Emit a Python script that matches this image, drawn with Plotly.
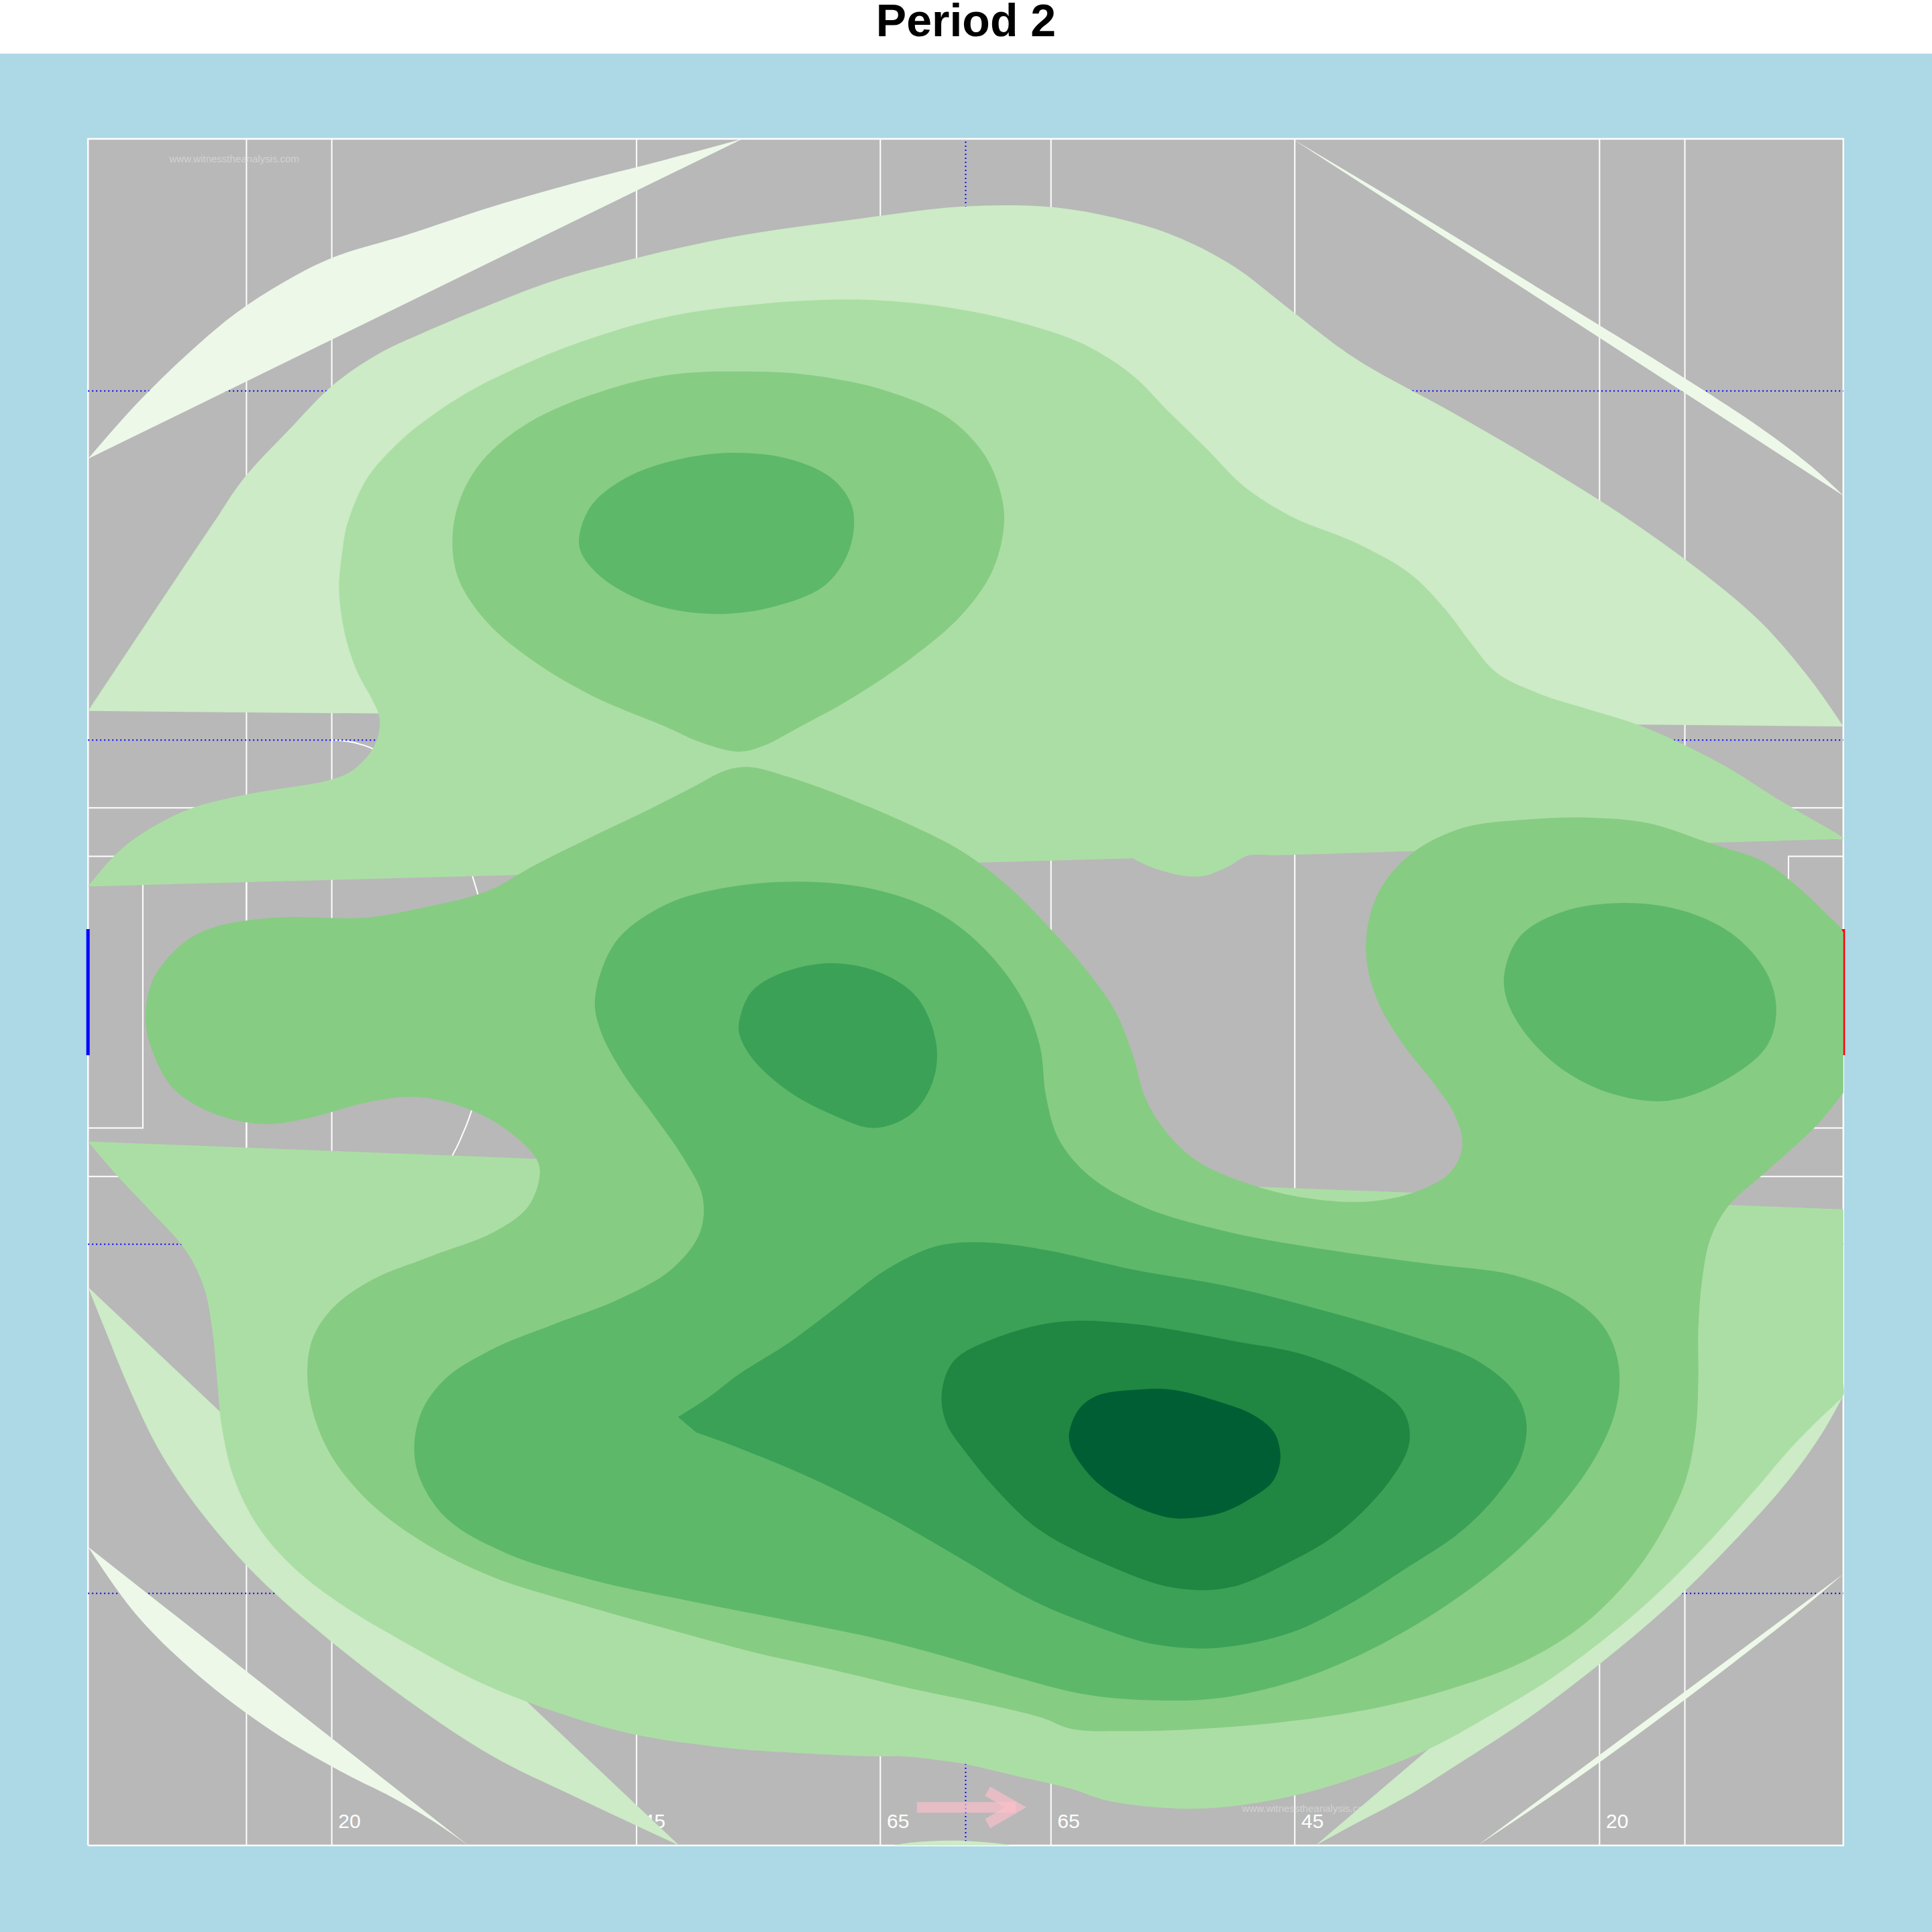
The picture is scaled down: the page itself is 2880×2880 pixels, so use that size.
import numpy as np
import plotly.graph_objects as go

# ---------------- text ----------------
TITLE = "Period 2"
WATERMARK = "www.witnesstheanalysis.com"

# ---------------- pitch (metres) ----------------
PITCH_LENGTH = 144
PITCH_WIDTH = 88
pitch_lines_x = [13, 20, 45, 65, 79, 99, 124, 131]
channel_lines_y = [13, 31, 57, 75]
halfway_x = 72
small_rect_depth = 4.5
small_rect_y = [37, 51]
large_rect_depth = 13
large_rect_y = [34.5, 53.5]
arc_centres_x = [20, 124]
arc_centre_y = 44
arc_radius = 13
goal_y = [40.75, 47.25]

label_lines = [20, 45, 65, 79, 99, 124]
label_texts = ["20", "45", "65", "65", "45", "20"]
label_offset = 1.45
label_y = 1.16

watermark_x = [12.0, 100.0]
watermark_y = [86.9, 1.87]

arrow_shaft_x = [68.0, 76.1]
arrow_shaft_y = [1.97, 1.97]
arrow_head_x = [73.8, 76.1, 73.8]
arrow_head_y = [2.8, 1.97, 1.13]

# ---------------- density contour bands (x, y in metres) ----------------
# "chord": open contour path closed by a straight line; "loop": closed contour
band1 = [
    ("chord", [(0, 71.5), (3.96, 74.32), (7.99, 76.8), (12.03, 78.96), (16.07, 80.61), (20.1, 81.88),
               (26.16, 83.05), (33.22, 84.51), (40.29, 85.78), (47.35, 86.92), (53.7, 88.0)]),
    ("chord", [(98.8, 88), (108.9, 84.2), (119.0, 80.3), (129.1, 76.4), (137.2, 73.1), (141.2, 71.2),
               (144, 69.6)]),
    ("chord", [(0, 15.4), (3.96, 11.9), (9.0, 8.8), (15.1, 5.9), (21.1, 3.7), (24.9, 2.5), (28.2, 1.3),
               (31.2, 0)]),
    ("chord", [(114.0, 0), (122.0, 3.4), (130.1, 7.1), (137.2, 10.5), (141.2, 12.5), (144, 14.0)]),
]
band2 = [
    ("chord", [(0, 58.5), (4.97, 63.2), (10.3, 68.2), (12.8, 70.5), (16.5, 73.0), (20.1, 75.3),
               (23.8, 76.9), (27.5, 78.0), (33.2, 79.5), (38.3, 80.7), (45.3, 81.9), (53.4, 83.0),
               (63.5, 83.9), (71.6, 84.5), (78.6, 84.5), (83.7, 84.0), (88.7, 83.1), (93.8, 81.5),
               (98.8, 79.1), (103.9, 76.7), (111.9, 73.9), (119.0, 71.3), (126.1, 68.5), (132.1, 65.8),
               (137.2, 63.1), (141.2, 60.2), (144, 57.7)]),
    ("chord", [(0, 28.8), (1.4, 26.6), (3.5, 23.4), (6.0, 20.2), (9.5, 17.0), (14.0, 13.8), (19.6, 10.7),
               (26.2, 7.5), (33.2, 4.6), (40.0, 2.5), (48.5, 0)]),
    ("chord", [(144, 23.2), (142.2, 21.2), (139.2, 18.6), (135.2, 15.8), (130.1, 12.6), (124.1, 9.4),
               (118.0, 6.5), (112.4, 4.2), (108.1, 2.5), (103.9, 1.1), (100.7, 0)]),
    ("chord", [(66.0, 0), (67.5, 0.15), (69.0, 0.22), (70.5, 0.25), (72.0, 0.24), (73.5, 0.18),
               (75.0, 0.08), (75.7, 0)]),
]
band3 = [
    ("chord", [(0, 49.45), (2.27, 51.1), (4.48, 52.2), (8.16, 53.4), (13.07, 54.2), (19.9, 54.95),
               (21.6, 55.4), (23.1, 56.3), (23.8, 57.2), (23.9, 58.2), (23.3, 59.1), (22.1, 60.5),
               (21.1, 62.4), (20.6, 64.7), (20.9, 66.9), (21.3, 68.2), (22.9, 70.5), (25.25, 72.2),
               (27.5, 73.4), (31.2, 74.95), (35.2, 76.2), (40.3, 77.5), (47.35, 78.8), (55.4, 79.5),
               (63.5, 79.7), (70.6, 79.3), (76.6, 78.5), (81.7, 77.4), (85.7, 75.8), (88.7, 73.9),
               (91.8, 72.0), (94.8, 70.1), (98.8, 68.5), (103.9, 67.2), (108.4, 65.6), (111.4, 63.7),
               (113.45, 62.0), (115.5, 60.5), (119.0, 59.4), (123.0, 58.6), (127.1, 57.8), (131.1, 56.7),
               (135.0, 55.4), (138.5, 54.0), (141.2, 53.0), (144, 51.9), (143.3, 51.89), (136, 51.76),
               (126, 51.58), (116, 51.4), (106, 51.22), (98.0, 51.07), (97.3, 51.06), (95.1, 51.03),
               (93.6, 50.5), (91.6, 50.0), (89.9, 50.0), (87.2, 50.45), (85.7, 50.9)]),
    ("chord", [(144, 32.8), (144, 30.4), (144, 28.0), (144, 25.6), (144, 23.9), (144, 23.2),
               (143.4, 22.8), (142.2, 22.1), (139.7, 20.5), (136.7, 18.3), (133.1, 15.75),
               (129.1, 13.2), (125.1, 11.0), (120.0, 8.6), (115.0, 6.7), (109.9, 4.95), (104.9, 3.7),
               (99.8, 2.7), (94.8, 2.1), (89.7, 1.9), (83.7, 2.3), (80.8, 2.9), (78.9, 3.2), (77.1, 3.45),
               (74.4, 3.85), (72.0, 4.2), (69.8, 4.4), (66.8, 4.6), (64.3, 4.6), (57.4, 4.8), (51.4, 5.1),
               (44.3, 5.8), (38.3, 6.9), (32.2, 8.4), (26.2, 10.4), (21.1, 12.3), (17.1, 14.2),
               (14.0, 16.4), (12.0, 18.9), (11.0, 21.5), (10.6, 24.0), (10.2, 26.6), (9.5, 28.8),
               (8.0, 30.7), (4.7, 33.0), (2.3, 34.6), (0, 36.3)]),
]
band4 = [
    ("loop", [(53.4, 56.4), (50.4, 56.85), (47.35, 57.7), (41.3, 59.3), (36.25, 61.2), (32.7, 63.1),
              (30.4, 65.3), (29.9, 67.5), (30.7, 69.7), (32.7, 71.65), (36.25, 73.4), (41.3, 74.8),
              (47.35, 75.8), (53.4, 76.0), (59.5, 75.8), (65.5, 75.0), (70.6, 73.6), (73.6, 71.65),
              (75.0, 69.4), (75.1, 67.8), (74.1, 65.6), (71.6, 63.4), (67.5, 61.2), (62.5, 59.1),
              (58.45, 57.7), (55.4, 56.7)]),
    ("chord", [(144, 38.8), (143.5, 38.4), (141.6, 37.0), (137.4, 34.6), (134.6, 33.0), (133.1, 31.3),
               (132.4, 29.1), (132.1, 26.55), (132.1, 24.0), (131.9, 21.5), (131.1, 18.9), (129.3, 16.4),
               (126.6, 13.85), (122.5, 11.3), (117.5, 9.4), (111.4, 8.0), (104.9, 7.0), (97.8, 6.35),
               (90.75, 6.0), (84.7, 5.9), (80.75, 6.0), (78.2, 6.6), (73.6, 7.3), (67.5, 8.1), (61.5, 9.0),
               (54.4, 10.0), (47.35, 11.2), (40.3, 12.45), (33.2, 13.85), (27.2, 15.75), (22.6, 18.0),
               (19.6, 20.5), (18.1, 23.4), (18.3, 25.9), (19.9, 27.6), (23.1, 29.1), (28.2, 30.4),
               (33.2, 31.6), (36.05, 32.9), (37.05, 34.5), (36.8, 35.4), (33.9, 37.1), (30.2, 38.2),
               (26.6, 38.6), (22.8, 38.3), (18.0, 37.5), (14.3, 37.2), (10.1, 37.8), (6.9, 39.1),
               (5.2, 41.1), (4.72, 42.66), (5.22, 44.5), (6.2, 45.5), (8.16, 46.7), (10.6, 47.4),
               (15.5, 47.85), (22.9, 47.85), (27.8, 48.4), (32.7, 49.2), (36.8, 50.6), (41.3, 52.0),
               (45.3, 53.2), (49.4, 54.5), (52.4, 55.45), (54.4, 55.6), (57.45, 55.1), (61.5, 54.2),
               (66.5, 52.9), (71.6, 51.3), (75.6, 49.4), (78.6, 47.5), (81.7, 45.3), (84.2, 43.1),
               (85.7, 40.8), (86.7, 38.6), (88.2, 37.0), (90.75, 35.4), (94.8, 34.2), (99.8, 33.4),
               (104.9, 33.2), (108.9, 33.7), (111.75, 34.7), (112.75, 36.1), (112.1, 37.7), (110.4, 39.3),
               (107.9, 41.3), (105.9, 43.4), (104.9, 45.6), (105.1, 47.8), (106.4, 49.7), (108.9, 51.3),
               (112.95, 52.5), (118.0, 52.9), (123.0, 53.0), (128.1, 52.7), (132.96, 51.7), (137.55, 50.7),
               (140.85, 49.1), (142.5, 48.1), (143.5, 47.5), (144, 47.1)]),
]
band5 = [
    ("loop", [(40.3, 67.5), (41.3, 69.1), (43.8, 70.4), (47.35, 71.3), (52.4, 71.8), (57.45, 71.5),
              (61.0, 70.5), (62.7, 69.0), (62.5, 66.9), (60.5, 65.0), (56.4, 63.9), (51.4, 63.5),
              (46.3, 64.0), (42.3, 65.3), (40.5, 66.6)]),
    ("loop", [(41.6, 43.7), (43.3, 46.6), (47.35, 48.5), (52.4, 49.4), (58.45, 49.7), (64.5, 49.3),
              (69.6, 48.15), (73.6, 46.2), (76.6, 43.7), (78.1, 41.2), (78.6, 38.6), (79.65, 36.4),
              (82.2, 34.5), (86.7, 32.9), (93.8, 31.6), (101.85, 30.7), (109.9, 30.0), (117.0, 29.4),
              (122.0, 28.1), (124.55, 26.55), (125.6, 24.6), (125.3, 22.4), (123.55, 19.9), (120.5, 17.3),
              (116.5, 14.8), (111.95, 12.6), (107.9, 11.0), (103.9, 9.7), (98.8, 8.45), (92.8, 7.6),
              (86.7, 7.5), (81.7, 7.8), (76.6, 8.6), (70.6, 9.7), (64.5, 10.7), (57.45, 11.6), (49.4, 12.6),
              (41.3, 13.7), (34.2, 15.1), (29.2, 17.0), (26.9, 19.6), (27.2, 22.1), (29.2, 24.0),
              (33.2, 25.6), (38.3, 26.9), (43.3, 28.1), (47.85, 29.7), (50.2, 31.6), (50.4, 33.5),
              (48.9, 35.4), (46.35, 37.7), (43.8, 39.9), (42.0, 42.1)]),
    ("loop", [(116.2, 45.0), (117.5, 46.9), (121.0, 48.15), (126.1, 48.6), (131.1, 48.15), (135.1, 46.9),
              (137.7, 45.0), (138.5, 43.1), (137.7, 41.2), (134.1, 39.4), (129.6, 38.4), (125.1, 38.75),
              (121.0, 40.0), (118.0, 41.8), (116.4, 43.6)]),
]
band6 = [
    ("loop", [(53.4, 42.4), (54.4, 44.0), (56.95, 45.0), (61.0, 45.5), (65.0, 45.0), (68.05, 43.7),
              (69.6, 41.3), (69.25, 39.3), (67.5, 37.7), (64.5, 37.0), (61.0, 37.7), (57.45, 38.9),
              (54.6, 40.5), (53.5, 41.7)]),
    ("chord", [(49.9, 21.3), (53.4, 20.5), (59.5, 18.9), (65.5, 17.0), (71.6, 14.8), (77.6, 12.6),
               (82.7, 11.3), (87.7, 10.35), (92.8, 10.2), (98.8, 11.0), (103.9, 12.6), (107.9, 14.2),
               (112.45, 16.1), (115.5, 18.0), (117.5, 19.9), (118.0, 21.8), (117.0, 23.4), (113.95, 25.0),
               (108.9, 26.2), (101.85, 27.5), (93.8, 28.8), (85.7, 29.7), (78.6, 30.7), (73.6, 31.1),
               (69.6, 30.9), (65.5, 29.7), (61.5, 27.8), (57.45, 25.9), (53.4, 24.3), (50.9, 23.1),
               (48.4, 22.1)]),
]
band7 = [
    ("loop", [(70.05, 23.4), (71.05, 25.0), (74.6, 26.2), (79.65, 27.0), (85.7, 26.9), (94.1, 26.0),
              (99.8, 25.3), (104.9, 23.9), (107.9, 22.4), (108.4, 20.8), (106.9, 18.9), (102.75, 16.2),
              (98.2, 14.5), (93.6, 13.3), (89.0, 13.3), (83.5, 14.5), (78.0, 16.3), (74.6, 18.3),
              (72.1, 20.2), (70.4, 21.8)]),
]
band8 = [
    ("loop", [(80.5, 21.3), (81.3, 22.5), (82.8, 23.2), (85.9, 23.5), (89.0, 23.5), (92.7, 22.9),
              (95.6, 22.2), (97.3, 21.3), (97.8, 20.3), (97.7, 19.5), (97.1, 18.7), (95.4, 17.9),
              (93.2, 17.2), (90.8, 16.9), (88.8, 16.9), (85.9, 17.5), (83.0, 18.6), (81.3, 19.8),
              (80.6, 20.6)]),
]
bands = [band1, band2, band3, band4, band5, band6, band7, band8]

# ---------------- styles ----------------
band_colors = ["#EDF8E9", "#CCEBC6", "#ABDEA4", "#87CC83", "#5DB86A", "#3BA157", "#1F8742", "#005E34"]
PITCH_GREY = "#B8B8B8"
BACK_BLUE = "#ADD8E6"
FONT = "Liberation Sans, Arial, sans-serif"

W = H = 2880
M_L, M_R, M_T, M_B = 113, 114, 178, 100
X_RANGE = [-1, 145]
Y_RANGE = [-1, 89]

fig = go.Figure()


def add_line(xs, ys, color="white", width=2.0, dash=None):
    fig.add_trace(go.Scatter(x=xs, y=ys, mode="lines", hoverinfo="skip", showlegend=False,
                             line=dict(color=color, width=width, dash=dash)))


# pitch outline and lines
add_line([0, PITCH_LENGTH, PITCH_LENGTH, 0, 0], [0, 0, PITCH_WIDTH, PITCH_WIDTH, 0], width=2.5)
lx, ly = [], []
for x in pitch_lines_x:
    lx += [x, x, None]
    ly += [0, PITCH_WIDTH, None]
for (d, (ya, yb)) in [(small_rect_depth, small_rect_y), (large_rect_depth, large_rect_y)]:
    lx += [0, d, d, 0, None, PITCH_LENGTH, PITCH_LENGTH - d, PITCH_LENGTH - d, PITCH_LENGTH, None]
    ly += [ya, ya, yb, yb, None, ya, ya, yb, yb, None]
theta = np.radians(np.linspace(-90, 90, 91))
lx += list(arc_centres_x[0] + arc_radius * np.cos(theta)) + [None]
ly += list(arc_centre_y + arc_radius * np.sin(theta)) + [None]
lx += list(arc_centres_x[1] - arc_radius * np.cos(theta)) + [None]
ly += list(arc_centre_y + arc_radius * np.sin(theta)) + [None]
add_line(lx, ly, width=2.0)

# dotted channel lines
dx, dy = [], []
for y in channel_lines_y:
    dx += [0, PITCH_LENGTH, None]
    dy += [y, y, None]
dx += [halfway_x, halfway_x]
dy += [0, PITCH_WIDTH]
add_line(dx, dy, color="#0000FF", width=2.0, dash="2px,4px")

# watermarks and pitch labels (under the density)
fig.add_trace(go.Scatter(x=watermark_x, y=watermark_y, mode="text", text=[WATERMARK] * 2,
                         textposition="middle center", hoverinfo="skip", showlegend=False,
                         textfont=dict(family=FONT, size=15, color="#D2D2D2")))
fig.add_trace(go.Scatter(x=[v + label_offset for v in label_lines], y=[label_y] * len(label_lines),
                         mode="text", text=label_texts, textposition="middle center",
                         hoverinfo="skip", showlegend=False,
                         textfont=dict(family=FONT, size=30, color="white")))

# goal posts
add_line([0, 0], goal_y, color="#0000FF", width=5)
add_line([PITCH_LENGTH, PITCH_LENGTH], goal_y, color="#FF0000", width=5)

# density bands
for polys, col in zip(bands, band_colors):
    for kind, poly in polys:
        xs = [p[0] for p in poly]
        ys = [p[1] for p in poly]
        if kind == "loop":
            # wrap the outline past its start so the smoothed curve has no corner where it closes
            xs = [xs[-1]] + xs + [xs[0], xs[1]]
            ys = [ys[-1]] + ys + [ys[0], ys[1]]
        fig.add_trace(go.Scatter(x=xs, y=ys, mode="lines", fill="toself", fillcolor=col,
                                 line=dict(width=0, color=col, shape="spline", smoothing=1.0),
                                 hoverinfo="skip", showlegend=False))

# direction-of-play arrow
ARROW_COL = "rgba(255,192,203,0.65)"
add_line(arrow_shaft_x, arrow_shaft_y, color=ARROW_COL, width=16)
add_line(arrow_head_x, arrow_head_y, color=ARROW_COL, width=16)

fig.update_layout(
    width=W, height=H,
    margin=dict(l=M_L, r=M_R, t=M_T, b=M_B, pad=0, autoexpand=False),
    paper_bgcolor=BACK_BLUE, plot_bgcolor=BACK_BLUE,
    xaxis=dict(range=X_RANGE, visible=False, fixedrange=True),
    yaxis=dict(range=Y_RANGE, visible=False, fixedrange=True),
    showlegend=False,
    title=dict(text=TITLE, x=0.5, xref="container", xanchor="center",
               y=1 - 30 / H, yref="container", yanchor="middle",
               font=dict(family=FONT, size=68, color="black", weight="bold")),
    shapes=[
        dict(type="rect", xref="paper", yref="paper", x0=-0.2, x1=1.2,
             y0=1 + (M_T - 80) / (H - M_T - M_B), y1=1.3,
             fillcolor="white", line=dict(width=0), layer="below"),
        dict(type="rect", xref="x", yref="y", x0=0, x1=PITCH_LENGTH, y0=0, y1=PITCH_WIDTH,
             fillcolor=PITCH_GREY, line=dict(width=0), layer="below"),
    ],
)

fig.write_html("out.html")
